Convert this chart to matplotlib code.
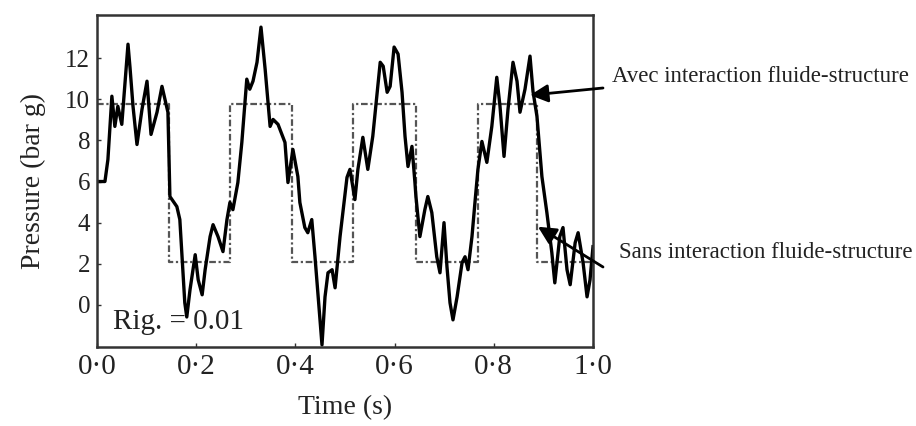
import matplotlib
matplotlib.use('Agg')
import matplotlib.pyplot as plt

# solid curve: with fluid-structure interaction
t_avec = [0.0, 0.016, 0.022, 0.030, 0.036, 0.042, 0.050, 0.0625, 0.0665, 0.0726,
          0.0806, 0.0907, 0.1008, 0.1089, 0.121, 0.131, 0.143, 0.147, 0.161, 0.167,
          0.177, 0.181, 0.1875, 0.198, 0.204, 0.212, 0.218, 0.228, 0.234, 0.244,
          0.254, 0.262, 0.268, 0.274, 0.284, 0.292, 0.302, 0.308, 0.3145, 0.3226,
          0.3306, 0.339, 0.349, 0.355, 0.365, 0.379, 0.385, 0.395, 0.405, 0.409,
          0.419, 0.425, 0.433, 0.4395, 0.4496, 0.4536, 0.4597, 0.4657, 0.474, 0.480,
          0.490, 0.504, 0.510, 0.520, 0.526, 0.536, 0.546, 0.556, 0.571, 0.577,
          0.585, 0.591, 0.599, 0.607, 0.615, 0.621, 0.627, 0.635, 0.641, 0.643,
          0.651, 0.661, 0.667, 0.675, 0.685, 0.6915, 0.6996, 0.7056, 0.7117, 0.7177,
          0.726, 0.736, 0.742, 0.748, 0.756, 0.762, 0.768, 0.776, 0.786, 0.796,
          0.806, 0.8125, 0.8206, 0.8286, 0.8387, 0.8468, 0.8528, 0.8629, 0.873, 0.879,
          0.887, 0.897, 0.907, 0.917, 0.923, 0.933, 0.9395, 0.9476, 0.954, 0.964,
          0.970, 0.980, 0.988, 0.994, 1.0]
p_avec = [6.0, 6.0, 7.07, 10.15, 8.68, 9.66, 8.78, 12.68, 11.56, 9.66,
          7.80, 9.51, 10.88, 8.29, 9.37, 10.63, 9.37, 5.27, 4.78, 4.15,
          0.10, -0.59, 0.73, 2.44, 1.22, 0.49, 1.71, 3.32, 3.90, 3.32,
          2.59, 4.15, 4.98, 4.63, 5.95, 7.90, 10.98, 10.49, 10.88, 11.80,
          13.51, 11.46, 8.68, 9.02, 8.78, 7.90, 5.95, 7.56, 6.24, 4.98,
          3.76, 3.51, 4.15, 2.34, -0.73, -1.95, 0.39, 1.56, 1.71, 0.83,
          3.32, 6.2, 6.59, 5.12, 6.59, 8.15, 6.59, 8.20, 11.80, 11.61,
          10.34, 10.63, 12.54, 12.20, 10.34, 8.20, 6.73, 7.71, 5.95, 5.27,
          3.32, 4.63, 5.27, 4.49, 2.34, 1.56, 4.0, 1.85, 0.10, -0.73,
          0.39, 2.05, 2.34, 1.71, 3.32, 4.98, 6.59, 7.95, 6.93, 8.68,
          11.07, 9.66, 7.22, 9.51, 11.80, 10.88, 9.37, 10.49, 12.10, 10.39,
          9.17, 6.24, 4.49, 2.54, 1.07, 3.32, 3.76, 1.71, 0.98, 3.02,
          3.51, 2.05, 0.39, 1.22, 2.83]

# dashed curve: without interaction (square wave corners)
t_sans = [0.0, 0.145, 0.145, 0.268, 0.268, 0.393, 0.393, 0.516, 0.516,
          0.644, 0.644, 0.768, 0.768, 0.888, 0.888, 1.0]
p_sans = [9.75, 9.75, 2.1, 2.1, 9.75, 9.75, 2.1, 2.1, 9.75,
          9.75, 2.1, 2.1, 9.75, 9.75, 2.1, 2.1]

x_ticks = [0.0, 0.2, 0.4, 0.6, 0.8, 1.0]
x_labels = ['0·0', '0·2', '0·4', '0·6', '0·8', '1·0']
y_ticks = [0, 2, 4, 6, 8, 10, 12]

serif = 'Liberation Serif'

fig = plt.figure(figsize=(9.16, 4.26), dpi=100)
ax = fig.add_axes([97 / 916, 1 - 347 / 426, 496 / 916, 332 / 426])

ax.plot(t_sans, p_sans, color='#555555', lw=1.6, linestyle=(0, (3, 1.2, 1, 1.2)))
ax.plot(t_avec, p_avec, color='black', lw=2.4, solid_joinstyle='round')

ax.set_xlim(0, 1.0)
ax.set_ylim(-2.05, 14.1)
ax.set_xticks(x_ticks)
ax.set_xticklabels(x_labels, fontfamily=serif, fontsize=21, color='#222222')
ax.set_yticks(y_ticks)
ax.set_yticklabels([str(v) for v in y_ticks], fontfamily=serif, fontsize=18, color='#222222')
ax.tick_params(direction='in', length=3, width=1, pad=5, color='#333333')
for s in ax.spines.values():
    s.set_linewidth(1.8)
    s.set_color('#333333')

ax.set_xlabel('Time (s)', fontfamily=serif, fontsize=20, color='#222222', labelpad=11)
ax.set_ylabel('Pressure (bar g)', fontfamily=serif, fontsize=20, color='#222222', labelpad=14)

ax.text(0.032, -0.85, 'Rig. = 0.01', fontfamily=serif, fontsize=21, color='#222222',
        va='center', ha='left')

arrow = dict(arrowstyle='-|>,head_length=0.6,head_width=0.3', color='black', lw=2,
             mutation_scale=18, shrinkA=0, shrinkB=0)
ax.annotate('', xy=(0.873, 10.2), xytext=(603 / 916, 1 - 88 / 426),
            textcoords='figure fraction', arrowprops=arrow)
ax.annotate('', xy=(0.889, 3.8), xytext=(603 / 916, 1 - 267 / 426),
            textcoords='figure fraction', arrowprops=arrow)

fig.text(612 / 916, 1 - 76 / 426, 'Avec interaction fluide-structure', fontfamily=serif,
         fontsize=16.5, color='#222222', va='center', ha='left')
fig.text(619 / 916, 1 - 253 / 426, 'Sans interaction fluide-structure', fontfamily=serif,
         fontsize=16.5, color='#222222', va='center', ha='left')

fig.savefig('out.png', dpi=100)
